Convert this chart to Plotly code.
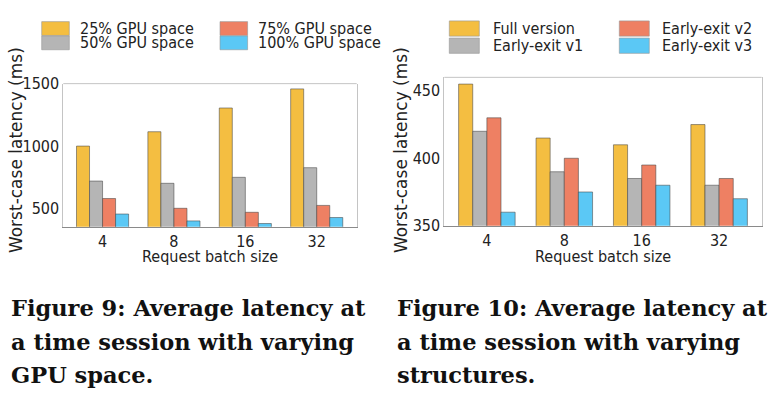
import plotly.graph_objects as go

categories = ["4", "8", "16", "32"]

# Figure 9 (left): worst-case latency vs GPU space
gpu_names = ["25% GPU space", "50% GPU space", "75% GPU space", "100% GPU space"]
gpu_25 = [1000, 1115, 1305, 1458]
gpu_50 = [720, 702, 750, 827]
gpu_75 = [580, 502, 470, 525]
gpu_100 = [456, 401, 380, 428]

# Figure 10 (right): worst-case latency vs structure
struct_names = ["Full version", "Early-exit v1", "Early-exit v2", "Early-exit v3"]
full_version = [455, 415, 410, 425]
early_v1 = [420, 390, 385, 380]
early_v2 = [430, 400, 395, 385]
early_v3 = [360, 375, 380, 370]

left_ticks = [500, 1000, 1500]
right_ticks = [350, 400, 450]

colors = ["#F4BE41", "#B5B5B5", "#EE8063", "#5BC8F5"]

W, H = 781, 407
TICKFONT = dict(family="DejaVu Sans Condensed, DejaVu Sans", size=16, color="#222")
LABFONT = dict(family="DejaVu Sans Condensed, DejaVu Sans", size=16, color="#222")
YTFONT = dict(family="DejaVu Sans", size=17, color="#222")
CAPFONT = dict(family="DejaVu Serif", size=22.5, color="#111")

fig = go.Figure()

left_series = [gpu_25, gpu_50, gpu_75, gpu_100]
right_series = [full_version, early_v1, early_v2, early_v3]

for name, vals, c in zip(gpu_names, left_series, colors):
    fig.add_trace(go.Bar(x=categories, y=vals, name=name, marker=dict(color=c, line=dict(color="rgba(70,70,70,0.55)", width=1)),
                         xaxis="x", yaxis="y", showlegend=False))
for name, vals, c in zip(struct_names, right_series, colors):
    fig.add_trace(go.Bar(x=categories, y=vals, name=name, marker=dict(color=c, line=dict(color="rgba(70,70,70,0.55)", width=1)),
                         xaxis="x2", yaxis="y2", showlegend=False))

def px2x(p):
    return p / W

def px2y(p):
    return 1 - p / H

ax_common = dict(showgrid=False, zeroline=False, ticks="", tickfont=TICKFONT)

fig.update_layout(
    width=W, height=H, margin=dict(l=0, r=0, t=0, b=0),
    paper_bgcolor="white", plot_bgcolor="white",
    barmode="group", bargap=0.27, bargroupgap=0,
    xaxis=dict(domain=[px2x(63.3), px2x(356.7)], anchor="y", range=[-0.55, 3.56], showline=True, linecolor="#8a8a8a", linewidth=1, **ax_common),
    yaxis=dict(domain=[px2y(228.3), px2y(78.3)], anchor="x", range=[355, 1500], tickvals=left_ticks, showline=True, linecolor="#c4c4c4", linewidth=1, mirror=True, **ax_common),
    xaxis2=dict(domain=[px2x(444.3), px2x(761.7)], anchor="y2", range=[-0.55, 3.55], showline=True, linecolor="#8a8a8a", linewidth=1, **ax_common),
    yaxis2=dict(domain=[px2y(227.3), px2y(71.7)], anchor="x2", range=[350, 460], tickvals=right_ticks, showline=True, linecolor="#c4c4c4", linewidth=1, mirror=True, **ax_common),
)

# top frame lines
for xr, yr in [("x domain", "y domain"), ("x2 domain", "y2 domain")]:
    fig.add_shape(type="line", xref=xr, yref=yr, x0=0, x1=1, y0=1, y1=1, line=dict(color="#c4c4c4", width=1))

annotations = []
# axis titles
annotations.append(dict(text="Request batch size", x=px2x(210), y=px2y(260), xref="paper", yref="paper", xanchor="center", yanchor="middle", showarrow=False, font=LABFONT))
annotations.append(dict(text="Request batch size", x=px2x(603), y=px2y(260), xref="paper", yref="paper", xanchor="center", yanchor="middle", showarrow=False, font=LABFONT))
annotations.append(dict(text="Worst-case latency (ms)", x=px2x(16), y=px2y(148), xref="paper", yref="paper", xanchor="center", yanchor="middle", showarrow=False, textangle=-90, font=YTFONT))
annotations.append(dict(text="Worst-case latency (ms)", x=px2x(401), y=px2y(148), xref="paper", yref="paper", xanchor="center", yanchor="middle", showarrow=False, textangle=-90, font=YTFONT))

# manual legends (2 columns x 2 rows)
def legend(names, patch_x, text_x, rows_y, patch_w, patch_h):
    order = [(0, 0), (1, 0), (0, 1), (1, 1)]  # (row, col) for series 0..3
    for i, (r, cidx) in enumerate(order):
        px0 = patch_x[cidx]
        cy = rows_y[r]
        fig.add_shape(type="rect", xref="paper", yref="paper",
                      x0=px2x(px0), x1=px2x(px0 + patch_w), y0=px2y(cy + patch_h / 2), y1=px2y(cy - patch_h / 2),
                      fillcolor=colors[i], line=dict(color="rgba(150,150,150,0.6)", width=1))
        annotations.append(dict(text=names[i], x=px2x(text_x[cidx]), y=px2y(cy), xref="paper", yref="paper",
                                xanchor="left", yanchor="middle", showarrow=False, font=LABFONT))

legend(gpu_names, patch_x=[41.7, 220], text_x=[78, 256], rows_y=[20.5, 35.5], patch_w=27.6, patch_h=14.5)
legend(struct_names, patch_x=[449.3, 619.3], text_x=[491, 660], rows_y=[20.5, 38.5], patch_w=30, patch_h=16)

# captions
cap_left = ["Figure 9: Average latency at", "a time session with varying", "GPU space."]
cap_right = ["Figure 10: Average latency at", "a time session with varying", "structures."]
cap_y = [314, 349, 384]
for lines, x0 in [(cap_left, 9), (cap_right, 395)]:
    for t, yy in zip(lines, cap_y):
        annotations.append(dict(text="<b>" + t + "</b>", x=px2x(x0), y=px2y(yy), xref="paper", yref="paper",
                                xanchor="left", yanchor="middle", showarrow=False, font=CAPFONT))

fig.update_layout(annotations=annotations)

fig.write_html("out.html")
